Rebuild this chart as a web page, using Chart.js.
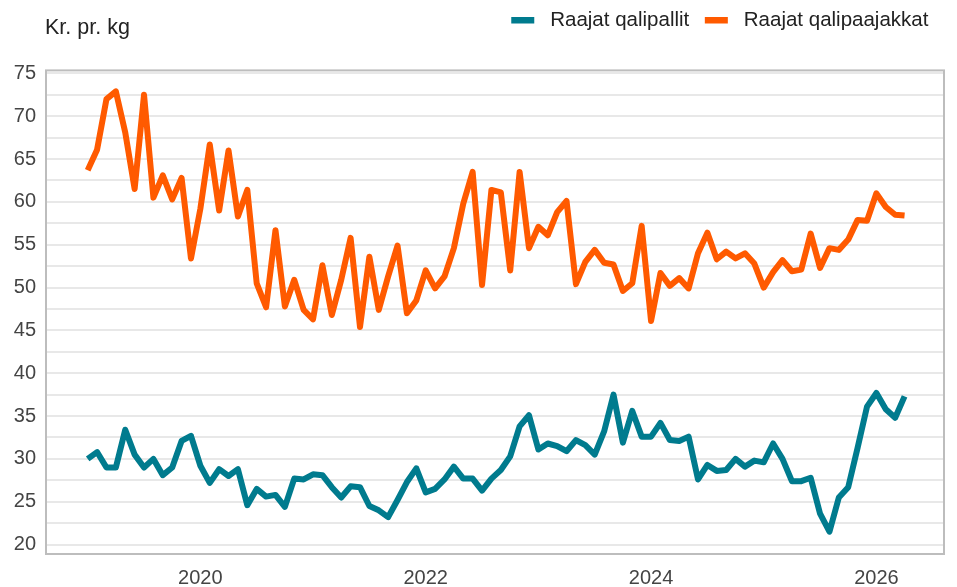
<!DOCTYPE html>
<html>
<head>
<meta charset="utf-8">
<script src="https://cdn.jsdelivr.net/npm/chart.js@4.4.1/dist/chart.umd.min.js"></script>
<style>
  body { margin: 0; background: #fff; }
  #wrap { position: relative; width: 957px; height: 587px; }
  #unit { position: absolute; left: 45px; top: 17px; font: 21.5px/1 "Liberation Sans", Arial, sans-serif; color: #222; }
</style>
</head>
<body>
<div id="wrap">
  <canvas id="myChart" width="957" height="587"></canvas>
  <div id="unit">Kr. pr. kg</div>
</div>
<script>
// monthly prices, Jan 2019 - Apr 2026
const startYear = 2019

const qalipallit = [
	30.0, 30.8, 29.0, 29.0, 33.4, 30.5, 29.0, 30.0, 28.1, 29.0, 32.1, 32.7,
	29.2, 27.2, 28.8, 28.0, 28.8, 24.6, 26.5, 25.6, 25.8, 24.4, 27.7, 27.6,
	28.2, 28.1, 26.7, 25.5, 26.8, 26.7, 24.5, 24.0, 23.2, 25.2, 27.3, 28.9,
	26.1, 26.5, 27.6, 29.1, 27.7, 27.7, 26.3, 27.7, 28.7, 30.3, 33.8, 35.1,
	31.1, 31.8, 31.5, 30.9, 32.2, 31.6, 30.5, 33.2, 37.5, 31.9, 35.6, 32.6,
	32.6, 34.2, 32.2, 32.1, 32.6, 27.6, 29.3, 28.6, 28.7, 30.0, 29.1, 29.8,
	29.6, 31.8, 30.0, 27.4, 27.4, 27.8, 23.6, 21.5, 25.5, 26.7, 31.3, 36.1,
	37.7, 35.8, 34.8, 37.3,
]

const qalipaajakkat = [
	63.7, 66.1, 72.0, 72.9, 68.1, 61.5, 72.5, 60.5, 63.1, 60.3, 62.8, 53.4,
	59.2, 66.7, 59.0, 66.0, 58.3, 61.4, 50.5, 47.7, 56.7, 47.8, 50.9, 47.4,
	46.3, 52.6, 46.8, 50.9, 55.8, 45.4, 53.6, 47.4, 51.3, 54.9, 47.0, 48.5,
	52.0, 49.9, 51.3, 54.6, 59.8, 63.5, 50.3, 61.4, 61.1, 52.0, 63.5, 54.6,
	57.1, 56.1, 58.8, 60.1, 50.4, 53.0, 54.4, 52.9, 52.7, 49.6, 50.5, 57.2,
	46.1, 51.7, 50.2, 51.1, 49.9, 54.0, 56.4, 53.3, 54.2, 53.4, 54.0, 52.8,
	50.0, 51.8, 53.2, 51.9, 52.1, 56.3, 52.3, 54.6, 54.4, 55.6, 57.9, 57.8,
	61.0, 59.4, 58.5, 58.4,
]

const yearTicks = [2020, 2022, 2024, 2026]

const months = []
for (let i = 0; i < qalipallit.length; i++) {
	const y = startYear + Math.floor(i / 12)
	const m = (i % 12) + 1
	months.push(y + '-' + String(m).padStart(2, '0'))
}

const toX = (s) => Number(s.slice(0, 4)) + (Number(s.slice(5, 7)) - 1) / 12
const points = (arr) => months.map((m, i) => ({ x: toX(m), y: arr[i] }))

const font = 'Liberation Sans, Arial, sans-serif'

// stroke a frame round the plot area
const frame = {
	id: 'frame',
	beforeDatasetsDraw(chart) {
		const { ctx, chartArea: a } = chart
		ctx.save()
		ctx.strokeStyle = '#bdbdbd'
		ctx.lineWidth = 2
		ctx.strokeRect(a.left, a.top, a.right - a.left, a.bottom - a.top)
		ctx.restore()
	},
}

// extra room under the legend
const legendGap = {
	id: 'legendGap',
	beforeInit(chart) {
		const fit = chart.legend.fit
		chart.legend.fit = function () {
			fit.call(this)
			this.height += 29.9
		}
	},
}

const ctx = document.getElementById('myChart')

const myChart = new Chart(ctx, {
	type: 'line',
	data: {
		datasets: [
			{
				label: 'Raajat qalipallit',
				data: points(qalipallit),
				borderColor: '#007b8e',
				backgroundColor: '#007b8e',
				borderWidth: 6,
				pointRadius: 0,
				tension: 0,
				borderJoinStyle: 'round',
			},
			{
				label: 'Raajat qalipaajakkat',
				data: points(qalipaajakkat),
				borderColor: '#ff5a00',
				backgroundColor: '#ff5a00',
				borderWidth: 6,
				pointRadius: 0,
				tension: 0,
				borderJoinStyle: 'round',
			},
		],
	},
	options: {
		responsive: false,
		animation: false,
		layout: { padding: { left: 0, right: 13, top: -5.6, bottom: 0 } },
		plugins: {
			tooltip: { enabled: false },
			legend: {
				display: true,
				position: 'top',
				align: 'end',
				labels: {
					boxWidth: 23,
					boxHeight: 6.7,
					padding: 15.6,
					color: '#222',
					font: { family: font, size: 20.5 },
					generateLabels: (chart) => {
						const items = Chart.defaults.plugins.legend.labels.generateLabels(chart)
						items.forEach((it) => {
							it.lineWidth = 0
							it.text = ' ' + it.text
						})
						return items
					},
				},
			},
		},
		scales: {
			x: {
				type: 'linear',
				min: 2018.63,
				max: 2026.6,
				grid: { display: false, drawTicks: false },
				border: { display: false },
				afterBuildTicks: (axis) => {
					axis.ticks = yearTicks.map((v) => ({ value: v }))
				},
				afterFit: (scale) => {
					scale.height = 33
				},
				ticks: {
					color: '#444',
					padding: 12,
					font: { family: font, size: 20 },
					callback: (v) => String(v),
				},
			},
			y: {
				min: 18.9,
				max: 75.35,
				grid: { color: '#e8e8e8', lineWidth: 2, drawTicks: false },
				border: { display: false },
				afterFit: (scale) => {
					scale.width = 46
				},
				ticks: {
					stepSize: 2.5,
					autoSkip: false,
					includeBounds: false,
					color: '#444',
					padding: 10,
					font: { family: font, size: 20 },
					callback: (v) => (v % 5 === 0 ? v : ''),
				},
			},
		},
	},
	plugins: [frame, legendGap],
})
</script>
</body>
</html>
